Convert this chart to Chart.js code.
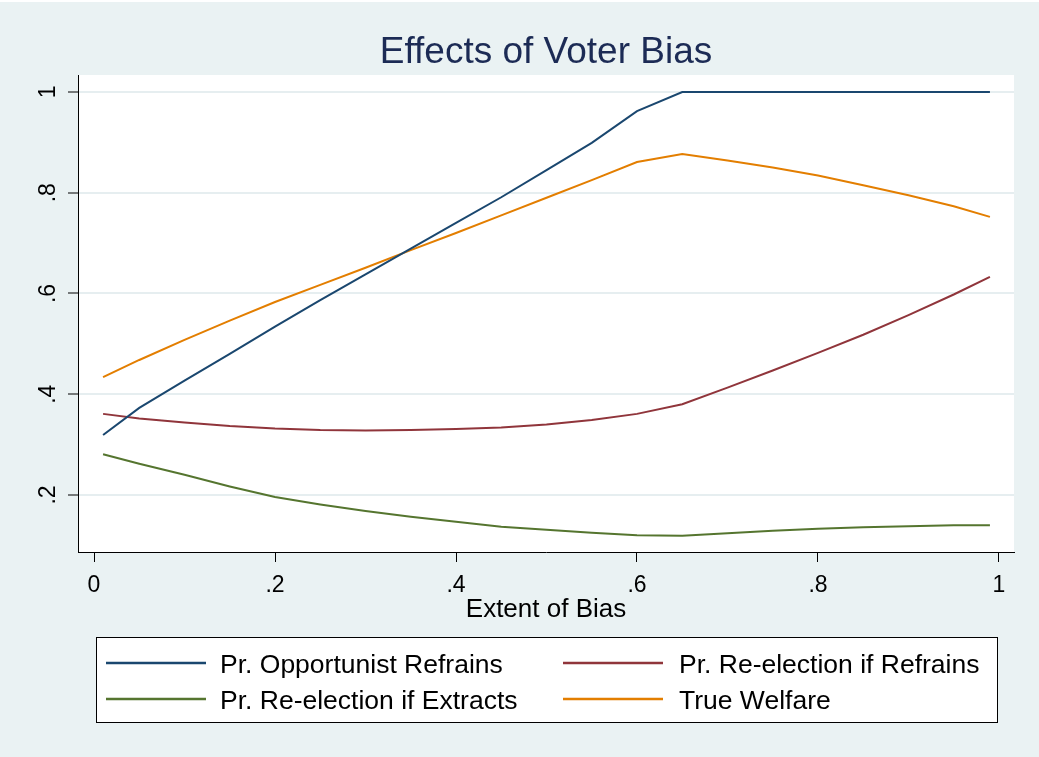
<!DOCTYPE html>
<html>
<head>
<meta charset="utf-8">
<script src="https://cdn.jsdelivr.net/npm/chart.js@4.4.1/dist/chart.umd.min.js"></script>
<style>
  html, body { margin: 0; padding: 0; background: #ffffff; }
  #chart { display: block; }
</style>
</head>
<body>
<canvas id="chart" width="1039" height="757"></canvas>
<script>
// extent of bias (x) and the four series
const biasLevels = [0.01, 0.05, 0.1, 0.15, 0.2, 0.25, 0.3, 0.35, 0.4, 0.45, 0.5,
                    0.55, 0.6, 0.65, 0.7, 0.75, 0.8, 0.85, 0.9, 0.95, 0.99];
const opportunistRefrains = [0.319, 0.373, 0.427, 0.48, 0.534, 0.587, 0.638, 0.689, 0.74, 0.791, 0.845,
                             0.899, 0.962, 1, 1, 1, 1, 1, 1, 1, 1];
const reelectionRefrains = [0.361, 0.352, 0.344, 0.337, 0.332, 0.329, 0.328, 0.329, 0.331, 0.334, 0.34,
                            0.349, 0.361, 0.38, 0.413, 0.447, 0.482, 0.518, 0.557, 0.598, 0.633];
const reelectionExtracts = [0.281, 0.262, 0.24, 0.217, 0.196, 0.181, 0.168, 0.157, 0.147, 0.137, 0.131,
                            0.125, 0.12, 0.119, 0.124, 0.129, 0.133, 0.136, 0.138, 0.14, 0.14];
const trueWelfare = [0.434, 0.468, 0.508, 0.546, 0.583, 0.617, 0.651, 0.686, 0.72, 0.755, 0.79,
                     0.825, 0.861, 0.877, 0.864, 0.85, 0.834, 0.815, 0.795, 0.773, 0.752];

const seriesNames = ['Pr. Opportunist Refrains', 'Pr. Re-election if Refrains',
                     'Pr. Re-election if Extracts', 'True Welfare'];
const xTicks = [0, 0.2, 0.4, 0.6, 0.8, 1];
const yTicks = [0.2, 0.4, 0.6, 0.8, 1];

const titleText = 'Effects of Voter Bias';
const xTitleText = 'Extent of Bias';

const colors = ['#1a476f', '#90353b', '#55752f', '#e37e00'];
const bgColor = '#eaf2f3';
const gridColor = '#e6eef0';
const FONT = '"Liberation Sans", Arial, sans-serif';

const fmt = v => (v === 0 || v === 1) ? String(v) : String(v).replace(/^0/, '');
const toPoints = arr => arr.map((y, i) => ({ x: biasLevels[i], y: y }));

const allSeries = [opportunistRefrains, reelectionRefrains, reelectionExtracts, trueWelfare];

const stataLook = {
    id: 'stataLook',
    beforeDraw(chart) {
        const { ctx, chartArea: a } = chart;
        ctx.save();
        ctx.fillStyle = '#ffffff';
        ctx.fillRect(0, 0, chart.width, chart.height);
        ctx.fillStyle = bgColor;
        ctx.fillRect(0, 2, chart.width, chart.height - 2);
        ctx.fillStyle = '#ffffff';
        ctx.fillRect(a.left, a.top, a.right - a.left, a.bottom - a.top);
        ctx.restore();
    },
    afterDraw(chart) {
        const { ctx } = chart;
        const xs = chart.scales.x, ys = chart.scales.y;
        const mid = (chart.chartArea.left + chart.chartArea.right) / 2;
        ctx.save();

        // title
        ctx.fillStyle = '#1c2b55';
        ctx.font = '37px ' + FONT;
        ctx.textAlign = 'center';
        ctx.textBaseline = 'alphabetic';
        ctx.fillText(titleText, mid, 63);

        // tick labels
        ctx.fillStyle = '#000000';
        ctx.font = '23px ' + FONT;
        xs.ticks.forEach(t => {
            ctx.fillText(fmt(t.value), xs.getPixelForValue(t.value), 592);
        });
        ys.ticks.forEach(t => {
            ctx.save();
            ctx.translate(55, ys.getPixelForValue(t.value));
            ctx.rotate(-Math.PI / 2);
            ctx.fillText(fmt(t.value), 0, 0);
            ctx.restore();
        });

        // x axis title
        ctx.font = '26px ' + FONT;
        ctx.fillText(xTitleText, mid, 617);

        // legend box
        const box = { left: 96, top: 637, right: 997, bottom: 722 };
        ctx.fillStyle = '#ffffff';
        ctx.fillRect(box.left, box.top, box.right - box.left, box.bottom - box.top);
        ctx.strokeStyle = '#000000';
        ctx.lineWidth = 1;
        ctx.strokeRect(box.left + 0.5, box.top + 0.5, box.right - box.left, box.bottom - box.top);

        const cols = [{ line: 106, text: 220 }, { line: 563, text: 679 }];
        const rows = [{ line: 663, text: 673 }, { line: 699, text: 709 }];
        ctx.textAlign = 'left';
        ctx.font = '26.5px ' + FONT;
        chart.data.datasets.forEach((ds, i) => {
            const c = cols[i % 2], r = rows[Math.floor(i / 2)];
            ctx.strokeStyle = ds.borderColor;
            ctx.lineWidth = 2.5;
            ctx.beginPath();
            ctx.moveTo(c.line, r.line);
            ctx.lineTo(c.line + 100, r.line);
            ctx.stroke();
            ctx.fillStyle = '#000000';
            ctx.fillText(ds.label, c.text, r.text);
        });
        ctx.restore();
    }
};

new Chart(document.getElementById('chart'), {
    type: 'line',
    data: {
        datasets: allSeries.map((s, i) => ({
            label: seriesNames[i],
            data: toPoints(s),
            borderColor: colors[i],
            backgroundColor: colors[i],
            borderWidth: 2,
            pointRadius: 0,
            tension: 0,
            fill: false
        }))
    },
    options: {
        responsive: false,
        devicePixelRatio: 1,
        animation: false,
        layout: { padding: { left: 0, right: 25, top: 75, bottom: 0 } },
        plugins: {
            legend: { display: false },
            title: { display: false },
            tooltip: { enabled: false }
        },
        scales: {
            x: {
                type: 'linear',
                min: -0.0177,
                max: 1.0166,
                afterBuildTicks: s => { s.ticks = xTicks.map(v => ({ value: v })); },
                afterFit: s => { s.height = 205; },
                ticks: { display: false },
                grid: { drawOnChartArea: false, drawTicks: true, tickLength: 10, tickColor: '#000000', tickWidth: 1 },
                border: { display: true, color: '#000000', width: 1 }
            },
            y: {
                type: 'linear',
                min: 0.0868,
                max: 1.0337,
                afterBuildTicks: s => { s.ticks = yTicks.map(v => ({ value: v })); },
                afterFit: s => { s.width = 78; },
                ticks: { display: false },
                grid: { color: gridColor, lineWidth: 2, drawTicks: true, tickLength: 10, tickColor: '#000000', tickWidth: 1 },
                border: { display: true, color: '#000000', width: 1 }
            }
        }
    },
    plugins: [stataLook]
});
</script>
</body>
</html>
